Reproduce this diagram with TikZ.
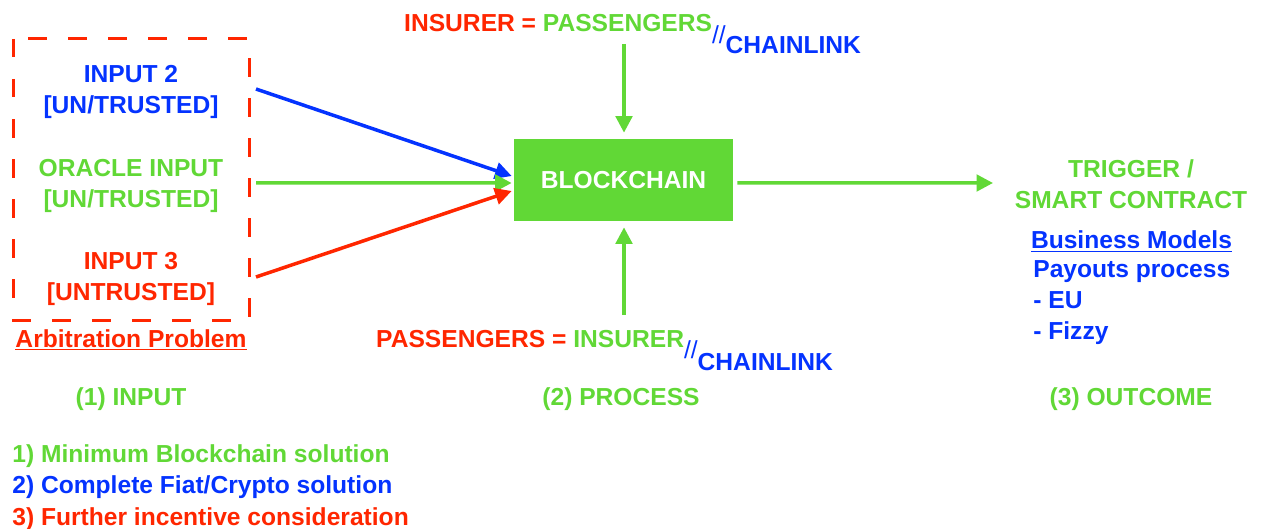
\documentclass[tikz,border=0pt]{standalone}
\usepackage{fontspec}
\setmainfont{Liberation Sans}
\usetikzlibrary{arrows.meta}
\definecolor{kgreen}{RGB}{97,216,54}
\definecolor{kred}{RGB}{255,38,0}
\definecolor{kblue}{RGB}{4,51,255}
\tikzset{
  lbl/.style={font=\bfseries\fontsize{14}{17.5}\selectfont, align=center},
  flow/.style={line width=0.7mm, -{Triangle[length=3.3mm,width=3.3mm]}},
}
\begin{document}
\begin{tikzpicture}[x=0.2mm,y=-0.2mm]
   \useasboundingbox (0,0) rectangle (1261,529);

   % (1) input side
   \draw[kred, line width=0.6mm, dash pattern=on 3.7mm off 4.3mm] (13,39) rectangle (249,320);
   \node[lbl, kblue] (in2) at (131,92) {INPUT 2\\{[UN/TRUSTED]}};
   \node[lbl, kgreen] (orc) at (131,186) {ORACLE INPUT\\{[UN/TRUSTED]}};
   \node[lbl, kred] (in3) at (131,279) {INPUT 3\\{[UNTRUSTED]}};
   \node[lbl, kred, anchor=base] (arb) at (131,347) {\underline{Arbitration Problem}};
   \node[lbl, kgreen, anchor=base] (step1) at (131,405) {(1) INPUT};

   % (2) process
   \node[lbl, fill=kgreen, text=white, minimum width=43.8mm, minimum height=16.4mm] (chain) at (623.5,180) {BLOCKCHAIN};
   \node[lbl, anchor=base west] (topeq) at (398,31.7) {\textcolor{kred}{INSURER =} \textcolor{kgreen}{PASSENGERS}\textcolor{kblue}{\raisebox{-2.3mm}{\mdseries//}\raisebox{-4.3mm}{CHAINLINK}}};
   \node[lbl, anchor=base west] (boteq) at (370,347) {\textcolor{kred}{PASSENGERS =} \textcolor{kgreen}{INSURER}\textcolor{kblue}{\raisebox{-2.2mm}{\mdseries//}\raisebox{-4.6mm}{CHAINLINK}}};
   \node[lbl, kgreen, anchor=base] (step2) at (621,405) {(2) PROCESS};

   % (3) outcome
   \node[lbl, kgreen] (trig) at (1131,184) {TRIGGER /\\SMART CONTRACT};
   \node[lbl, kblue, anchor=base] (biz) at (1131.5,248.3) {\underline{Business Models}};
   \node[lbl, kblue, align=left, anchor=north west, inner sep=0pt] (pay) at (1033,260.7) {Payouts process\\- EU\\- Fizzy};
   \node[lbl, kgreen, anchor=base] (step3) at (1131,405) {(3) OUTCOME};

   % legend
   \node[font=\bfseries\fontsize{14}{18}\selectfont, align=left, anchor=north west, inner sep=0pt] (legend) at (12,444) {\textcolor{kgreen}{1) Minimum Blockchain solution}\\\textcolor{kblue}{2) Complete Fiat/Crypto solution}\\\textcolor{kred}{3) Further incentive consideration}};

   % arrows
   \coordinate (s2) at (256,89);
   \coordinate (so) at (256,183);
   \coordinate (s3) at (256,277);
   \coordinate (stop) at (624,44);
   \coordinate (sbot) at (624,315);
   \coordinate (eout) at (993,183);

   \draw[flow, kblue] (s2) -- ([xshift=-0.4mm,yshift=0.8mm]chain.west);
   \draw[flow, kgreen] (so) -- ([xshift=-0.4mm,yshift=-0.6mm]chain.west);
   \draw[flow, kred] (s3) -- ([xshift=-0.4mm,yshift=-2.2mm]chain.west);
   \draw[flow, kgreen] (stop) -- ([xshift=0.1mm,yshift=1.2mm]chain.north);
   \draw[flow, kgreen] (sbot) -- ([xshift=0.1mm,yshift=-1.2mm]chain.south);
   \draw[flow, kgreen] ([xshift=0.8mm,yshift=-0.6mm]chain.east) -- (eout);
\end{tikzpicture}
\end{document}
